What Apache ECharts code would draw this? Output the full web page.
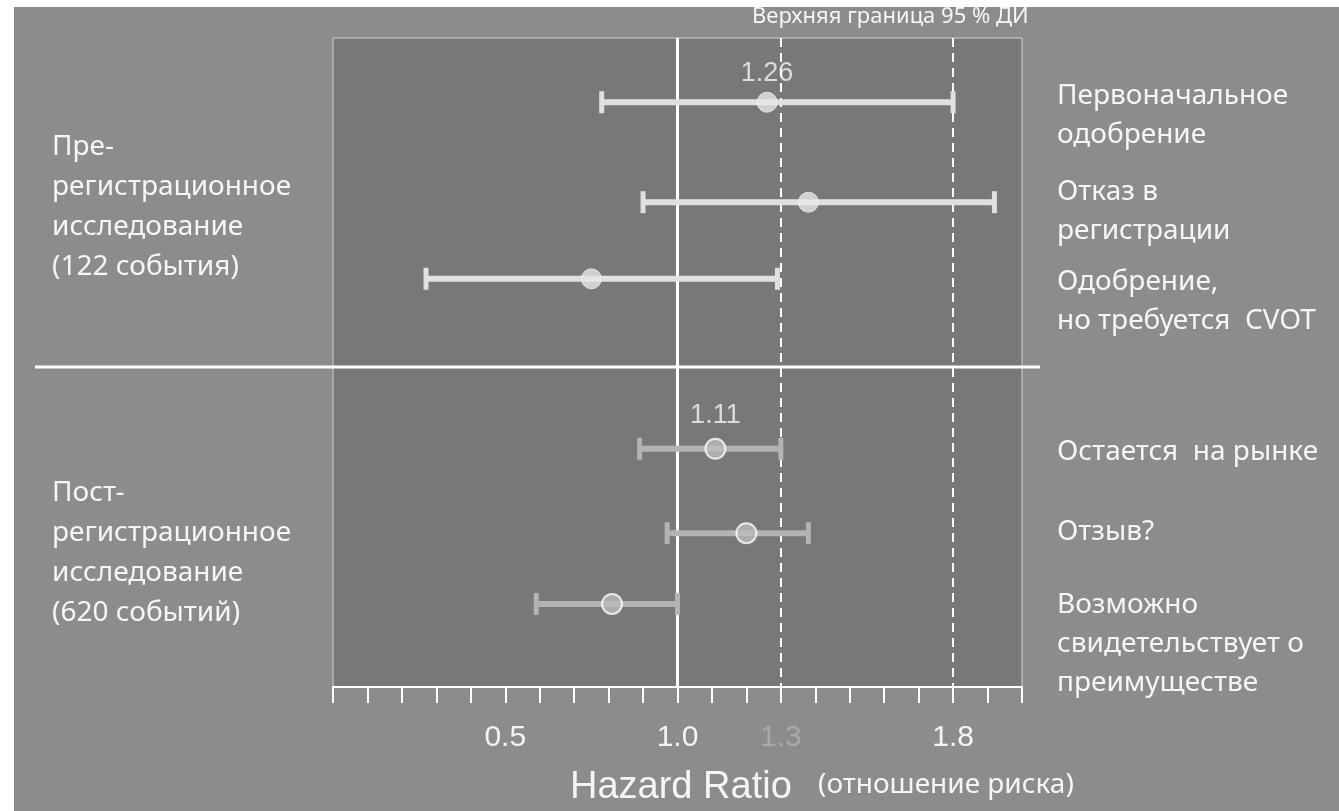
<!DOCTYPE html>
<html>
<head>
<meta charset="utf-8">
<script src="https://cdn.jsdelivr.net/npm/echarts@6/dist/echarts.min.js"></script>
<style>
  html, body { margin: 0; padding: 0; background: #fff; }
  #bg { position: absolute; left: 14px; top: 7px; width: 1325px; height: 804px; background: #8c8c8c; }
  #chart { position: absolute; left: 0; top: 0; width: 1339px; height: 811px; }
</style>
</head>
<body>
<div id="bg"></div>
<div id="chart"></div>
<script>
// hazard ratios with 95% CI, top to bottom
const outcomes = [
  "Первоначальное\nодобрение",
  "Отказ в\nрегистрации",
  "Одобрение,\nно требуется  CVOT",
  "Остается  на рынке",
  "Отзыв?",
  "Возможно\nсвидетельствует о\nпреимуществе",
];
const hr = [1.26, 1.38, 0.75, 1.11, 1.2, 0.81];
const ciLow = [0.78, 0.9, 0.27, 0.89, 0.97, 0.59];
const ciHigh = [1.8, 1.92, 1.29, 1.3, 1.38, 1.0];
const group = ["pre", "pre", "pre", "post", "post", "post"];
const shownHr = ["1.26", "", "", "1.11", "", ""];

const tickLabels = ["0.5", "1.0", "1.3", "1.8"];
const refLine = 1.0;
const limitLines = [1.3, 1.8];

// vertical slot of each row (y axis runs 0..10, top to bottom)
const rowY = [0.99, 2.53, 3.71, 6.33, 7.63, 8.72];

const colors = {
  pre: { bar: "#e0e0e0", dot: "#e6e6e6", border: "#f2f2f2" },
  post: { bar: "#b3b3b3", dot: "#bababa", border: "#ffffff" },
};

const font = "'Noto Sans', 'Open Sans', sans-serif";
const arial = "'Liberation Sans', Arial, sans-serif";

const chart = echarts.init(document.getElementById("chart"));

const barData = hr.map((v, i) => [ciLow[i], ciHigh[i], rowY[i], i]);
const dotData = hr.map((v, i) => ({
  value: [v, rowY[i]],
  symbolSize: 20,
  itemStyle: {
    color: colors[group[i]].dot,
    borderColor: colors[group[i]].border,
    borderWidth: group[i] === "pre" ? 1 : 2,
  },
  label: {
    show: shownHr[i] !== "",
    formatter: shownHr[i],
    position: "top",
    distance: group[i] === "pre" ? 5 : 9,
    color: "#f4f4f4",
    fontSize: 27,
    fontFamily: arial,
  },
}));

const sideText = [];
// right-hand outcome labels
const rightTop = [97, 193, 283, 453, 533, 606];
outcomes.forEach((t, i) => {
  sideText.push({
    type: "text",
    left: 1057,
    top: rightTop[i] - 20,
    style: { text: t, fill: "#f6f6f6", font: "28px " + font, lineHeight: 39 },
  });
});
// left-hand group labels
sideText.push({
  type: "text", left: 52, top: 127,
  style: { text: "Пре-\nрегистрационное\nисследование\n(122 события)", fill: "#f6f6f6", font: "28px " + font, lineHeight: 40 },
});
sideText.push({
  type: "text", left: 52, top: 473,
  style: { text: "Пост-\nрегистрационное\nисследование\n(620 событий)", fill: "#f6f6f6", font: "28px " + font, lineHeight: 40 },
});

chart.setOption({
  animation: false,
  grid: {
    left: 333, right: 317, top: 38, bottom: 124,
    show: true, backgroundColor: "#787878", borderColor: "#cfcfcf", borderWidth: 1,
  },
  xAxis: {
    type: "value",
    position: "bottom",
    min: 0, max: 2, interval: 0.1,
    splitLine: { show: false },
    axisLine: { onZero: false, lineStyle: { color: "#ffffff", width: 2 } },
    axisTick: { show: true, length: 16, lineStyle: { color: "#ffffff", width: 2 } },
    axisLabel: {
      show: true,
      margin: 36,
      interval: 0,
      color: "#f4f4f4",
      fontSize: 30,
      fontFamily: arial,
      formatter: function (v) {
        const s = v.toFixed(1);
        if (tickLabels.indexOf(s) < 0) return "";
        return s === "1.3" ? "{dim|" + s + "}" : s;
      },
      rich: { dim: { color: "#a9a9a9", fontSize: 30, fontFamily: arial } },
    },
  },
  yAxis: { type: "value", min: 0, max: 10, inverse: true, show: false },
  graphic: sideText.concat([
    {
      type: "line",
      shape: { x1: 35, y1: 367, x2: 1040, y2: 367 },
      style: { stroke: "#ffffff", lineWidth: 3 },
    },
    {
      type: "text", left: 752, top: 6,
      style: { text: "Верхняя граница 95 % ДИ", fill: "#f6f6f6", font: "22px " + font },
    },
    {
      type: "text", left: 570, top: 769,
      style: { text: "Hazard Ratio", fill: "#f6f6f6", font: "38px " + arial },
    },
    {
      type: "text", left: 818, top: 771,
      style: { text: "(отношение риска)", fill: "#f6f6f6", font: "28px " + font },
    },
  ]),
  series: [
    {
      type: "custom",
      data: barData,
      z: 3,
      renderItem: function (params, api) {
        const a = api.coord([api.value(0), api.value(2)]);
        const b = api.coord([api.value(1), api.value(2)]);
        const c = colors[group[api.value(3)]].bar;
        return {
          type: "group",
          children: [
            { type: "line", shape: { x1: a[0], y1: a[1], x2: b[0], y2: b[1] }, style: { stroke: c, lineWidth: 6 } },
            { type: "rect", shape: { x: a[0] - 2.5, y: a[1] - 11, width: 5, height: 22 }, style: { fill: c } },
            { type: "rect", shape: { x: b[0] - 2.5, y: b[1] - 11, width: 5, height: 22 }, style: { fill: c } },
          ],
        };
      },
      markLine: {
        silent: true,
        symbol: "none",
        label: { show: false },
        z: 1,
        data: [
          { xAxis: refLine, lineStyle: { color: "#ffffff", width: 3, type: "solid" } },
        ].concat(limitLines.map((x) => ({ xAxis: x, lineStyle: { color: "#ffffff", width: 2, type: [9, 6] } }))),
      },
    },
    {
      type: "scatter",
      data: dotData,
      z: 4,
      symbol: "circle",
    },
  ],
});
</script>
</body>
</html>
